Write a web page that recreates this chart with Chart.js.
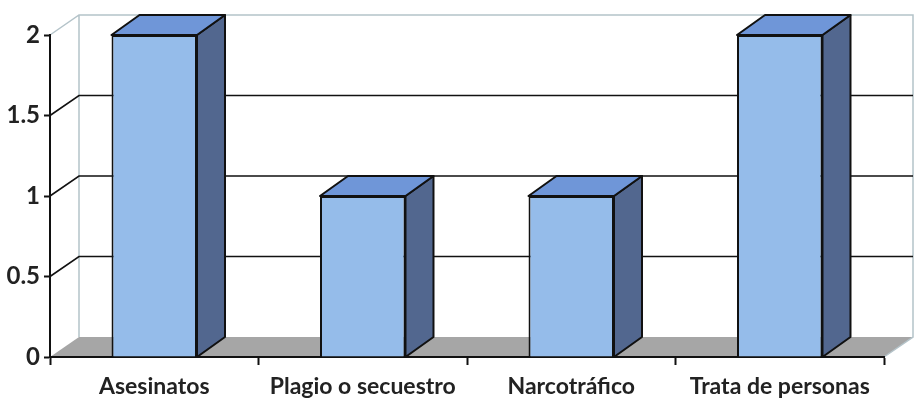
<!DOCTYPE html>
<html>
<head>
<meta charset="utf-8">
<script src="https://cdn.jsdelivr.net/npm/chart.js@4"></script>
<style>
  html, body { margin: 0; padding: 0; background: #fff; }
  #wrap { width: 915px; height: 402px; }
</style>
</head>
<body>
<div id="wrap"><canvas id="barChart" width="915" height="402"></canvas></div>
<script>
const categories = ['Asesinatos', 'Plagio o secuestro', 'Narcotráfico', 'Trata de personas'];
const values = [2, 1, 1, 2];
const yTicks = [0, 0.5, 1, 1.5, 2];

// depth of the fake 3d box
const wallDX = 29, wallDY = -20;
const barDX = 28, barDY = -20;

const frontColor = '#95bcea';
const topColor = '#6f96d8';
const sideColor = '#52678f';
const floorColor = '#a6a6a6';
const wallEdge = '#b4c3c9';

// back wall, floor and gridlines go under the scales
const backdrop = {
    id: 'backdrop',
    beforeDraw(chart) {
        const ctx = chart.ctx;
        const a = chart.chartArea;
        const y = chart.scales.y;
        const y0 = y.getPixelForValue(0);
        const yTop = y.getPixelForValue(yTicks[yTicks.length - 1]);
        ctx.save();

        // floor
        ctx.fillStyle = floorColor;
        ctx.beginPath();
        ctx.moveTo(a.left, y0);
        ctx.lineTo(a.right, y0);
        ctx.lineTo(a.right + wallDX, y0 + wallDY);
        ctx.lineTo(a.left + wallDX, y0 + wallDY);
        ctx.closePath();
        ctx.fill();

        // wall outline
        ctx.strokeStyle = wallEdge;
        ctx.lineWidth = 1.5;
        ctx.beginPath();
        ctx.moveTo(a.left, yTop);
        ctx.lineTo(a.left + wallDX, yTop + wallDY);
        ctx.lineTo(a.right + wallDX, yTop + wallDY);
        ctx.lineTo(a.right + wallDX, y0 + wallDY);
        ctx.lineTo(a.right, y0);
        ctx.moveTo(a.left + wallDX, yTop + wallDY);
        ctx.lineTo(a.left + wallDX, y0 + wallDY);
        ctx.stroke();

        // gridlines across side wall and back wall
        ctx.strokeStyle = '#111';
        ctx.lineWidth = 1.6;
        yTicks.slice(1, -1).forEach(v => {
            const py = y.getPixelForValue(v);
            ctx.beginPath();
            ctx.moveTo(a.left, py);
            ctx.lineTo(a.left + wallDX, py + wallDY);
            ctx.lineTo(a.right + wallDX, py + wallDY);
            ctx.stroke();
        });
        ctx.restore();
    }
};

// top and side faces of every bar
const barDepth = {
    id: 'barDepth',
    afterDatasetsDraw(chart) {
        const ctx = chart.ctx;
        const meta = chart.getDatasetMeta(0);
        const y0 = chart.scales.y.getPixelForValue(0);
        ctx.save();
        ctx.lineWidth = 2;
        ctx.strokeStyle = '#111';
        ctx.lineJoin = 'round';
        meta.data.forEach(bar => {
            const p = bar.getProps(['x', 'y', 'width'], true);
            const xl = p.x - p.width / 2;
            const xr = p.x + p.width / 2;
            const yt = p.y;

            ctx.fillStyle = sideColor;
            ctx.beginPath();
            ctx.moveTo(xr, yt);
            ctx.lineTo(xr + barDX, yt + barDY);
            ctx.lineTo(xr + barDX, y0 + barDY);
            ctx.lineTo(xr, y0);
            ctx.closePath();
            ctx.fill();
            ctx.stroke();

            ctx.fillStyle = topColor;
            ctx.beginPath();
            ctx.moveTo(xl, yt);
            ctx.lineTo(xl + barDX, yt + barDY);
            ctx.lineTo(xr + barDX, yt + barDY);
            ctx.lineTo(xr, yt);
            ctx.closePath();
            ctx.fill();
            ctx.stroke();
        });
        ctx.restore();
    }
};

var bar = document.getElementById('barChart').getContext('2d');
var myChart = new Chart(bar, {
    type: 'bar',
    data: {
        labels: categories,
        datasets: [{
            data: values,
            backgroundColor: frontColor,
            borderColor: '#111',
            borderWidth: 2,
            barPercentage: 0.41,
            categoryPercentage: 1
        }]
    },
    options: {
        responsive: false,
        animation: false,
        events: [],
        layout: { padding: { top: 35, right: 31, left: 0, bottom: 0 } },
        plugins: {
            legend: { display: false },
            tooltip: { enabled: false }
        },
        scales: {
            x: {
                afterFit(scale) { scale.height = 45; },
                grid: {
                    offset: true,
                    drawOnChartArea: false,
                    drawTicks: true,
                    tickLength: 8,
                    tickColor: '#111',
                    tickWidth: 2
                },
                border: { color: '#111', width: 2 },
                ticks: {
                    color: '#222',
                    padding: 8,
                    maxRotation: 0,
                    font: { family: 'Lato', weight: 'bold', size: 23 }
                }
            },
            y: {
                min: 0,
                max: 2,
                afterFit(scale) { scale.width = 50; },
                afterBuildTicks(scale) { scale.ticks = yTicks.map(v => ({ value: v })); },
                grid: {
                    drawOnChartArea: false,
                    drawTicks: true,
                    tickLength: 6,
                    tickColor: '#111',
                    tickWidth: 2
                },
                border: { color: '#111', width: 2 },
                ticks: {
                    color: '#222',
                    padding: 4,
                    callback: v => String(v),
                    font: { family: 'Lato', weight: 'bold', size: 24 }
                }
            }
        }
    },
    plugins: [backdrop, barDepth]
});
</script>
</body>
</html>
